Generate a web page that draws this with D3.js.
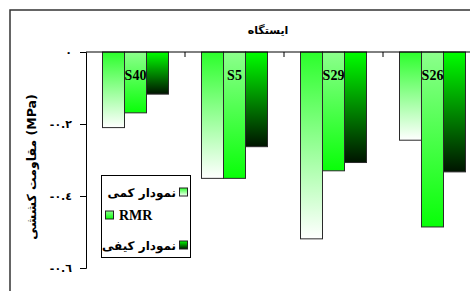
<!DOCTYPE html>
<html>
<head>
<meta charset="utf-8">
<script src="https://cdnjs.cloudflare.com/ajax/libs/d3/7.8.5/d3.min.js"></script>
<style>
  body { margin: 0; background: #fff; }
  svg { display: block; }
</style>
</head>
<body>
<div id="chart"></div>
<script>
// Data
var stations = ["S40", "S5", "S29", "S26"];
var seriesNames = ["نمودار کمی", "RMR", "نمودار کیفی"];
var quantitative = [-0.21, -0.351, -0.519, -0.245];
var rmr = [-0.169, -0.351, -0.33, -0.486];
var qualitative = [-0.117, -0.263, -0.307, -0.333];
var yTicks = [0, -0.2, -0.4, -0.6];
var chartTitle = "ایستگاه";
var yLabel = "مقاومت کششی  (MPa)";

var seriesValues = [quantitative, rmr, qualitative];

var faFont = "'DejaVu Sans', sans-serif";
var latFont = "'Liberation Serif', 'Times New Roman', serif";

var width = 470, height = 291;
var svg = d3.select("#chart").append("svg")
  .attr("width", width)
  .attr("height", height);

// gradients, one per series, relative to each bar
var defs = svg.append("defs");
var gradStops = [
  ["#2bff2b", "#ffffff"],
  ["#8cff8c", "#08ff08"],
  ["#00ff00", "#001400"]
];
gradStops.forEach(function(s, i){
  var g = defs.append("linearGradient")
    .attr("id", "grad" + i)
    .attr("x1", 0).attr("y1", 0).attr("x2", 0).attr("y2", 1);
  g.append("stop").attr("offset", "0%").attr("stop-color", s[0]);
  g.append("stop").attr("offset", "100%").attr("stop-color", s[1]);
});

// outer frame
svg.append("rect")
  .attr("x", 10).attr("y", 10)
  .attr("width", 480).attr("height", 300)
  .attr("fill", "none")
  .attr("stroke", "#333")
  .attr("stroke-width", 1.5);

// scales
var x = d3.scaleBand()
  .domain(stations)
  .range([86, 482])
  .paddingInner(0).paddingOuter(0);

var x1 = d3.scaleBand()
  .domain(d3.range(seriesNames.length))
  .range([0, x.bandwidth()])
  .paddingInner(0).paddingOuter(0.75);

var y = d3.scaleLinear()
  .domain([-0.6, 0])
  .range([268, 52]);

// bars
var rows = stations.map(function(s, i){
  return { station: s, values: seriesValues.map(function(v){ return v[i]; }) };
});

var groups = svg.selectAll(".station")
  .data(rows)
  .enter().append("g")
  .attr("class", "station")
  .attr("transform", function(d){ return "translate(" + x(d.station) + ",0)"; });

groups.selectAll("rect")
  .data(function(d){ return d.values; })
  .enter().append("rect")
  .attr("x", function(d, i){ return x1(i); })
  .attr("y", y(0))
  .attr("width", x1.bandwidth())
  .attr("height", function(d){ return y(d) - y(0); })
  .attr("fill", function(d, i){ return "url(#grad" + i + ")"; })
  .attr("stroke", "#2a2a2a")
  .attr("stroke-width", 1);

groups.append("text")
  .attr("x", x.bandwidth() / 2)
  .attr("y", 80)
  .attr("text-anchor", "middle")
  .style("font-family", latFont)
  .style("font-weight", "bold")
  .style("font-size", "14px")
  .text(function(d){ return d.station; });

// top category axis line with boundary ticks
svg.append("line")
  .attr("x1", 86).attr("x2", 482)
  .attr("y1", y(0)).attr("y2", y(0))
  .attr("stroke", "#000").attr("stroke-width", 1);

svg.selectAll(".catTick")
  .data(stations.slice(1))
  .enter().append("line")
  .attr("class", "catTick")
  .attr("x1", function(d){ return x(d); })
  .attr("x2", function(d){ return x(d); })
  .attr("y1", y(0)).attr("y2", y(0) + 5)
  .attr("stroke", "#000");

// y axis with Arabic-Indic digits
var arabicDigits = "٠١٢٣٤٥٦٧٨٩";
function toArabic(v){
  if (v === 0) return "٠";
  var s = d3.format(".1f")(v).replace("−", "-");
  return s.replace(/[0-9]/g, function(c){ return arabicDigits[+c]; });
}

var yAxis = d3.axisLeft(y)
  .tickValues(yTicks)
  .tickSize(6)
  .tickPadding(8)
  .tickFormat(toArabic);

var yAxisGroup = svg.append("g")
  .attr("transform", "translate(86,0)")
  .call(yAxis);
yAxisGroup.select(".domain").attr("stroke", "#000");
yAxisGroup.selectAll("text")
  .attr("direction", "ltr")
  .attr("unicode-bidi", "bidi-override")
  .style("font-family", faFont)
  .style("font-weight", "bold")
  .style("font-size", "11px")
  .attr("fill", "#000");

// title
svg.append("text")
  .attr("x", 268).attr("y", 34)
  .attr("text-anchor", "middle")
  .style("font-family", faFont)
  .style("font-weight", "bold")
  .style("font-size", "11px")
  .text(chartTitle);

// y label
svg.append("text")
  .attr("transform", "translate(36,167) rotate(-90)")
  .attr("text-anchor", "middle")
  .style("font-family", faFont)
  .style("font-weight", "bold")
  .style("font-size", "12.5px")
  .text(yLabel);

// legend
var legend = svg.append("g");
legend.append("rect")
  .attr("x", 101.5).attr("y", 175.5)
  .attr("width", 89).attr("height", 82)
  .attr("fill", "#fff")
  .attr("stroke", "#000");

var legendRows = [
  { i: 0, y: 192, rtl: true },
  { i: 1, y: 215, rtl: false },
  { i: 2, y: 245, rtl: true }
];

legendRows.forEach(function(r){
  var sx = r.rtl ? 179.5 : 105.5;
  legend.append("rect")
    .attr("x", sx).attr("y", r.y - 4)
    .attr("width", 8).attr("height", 8)
    .attr("fill", "url(#grad" + r.i + ")")
    .attr("stroke", "#222");
  legend.append("text")
    .attr("x", r.rtl ? 176 : 119)
    .attr("y", r.y + 5)
    .attr("text-anchor", r.rtl ? "end" : "start")
    .style("font-family", r.rtl ? faFont : latFont)
    .style("font-weight", "bold")
    .style("font-size", r.rtl ? "12px" : "14px")
    .text(seriesNames[r.i]);
});
</script>
</body>
</html>
